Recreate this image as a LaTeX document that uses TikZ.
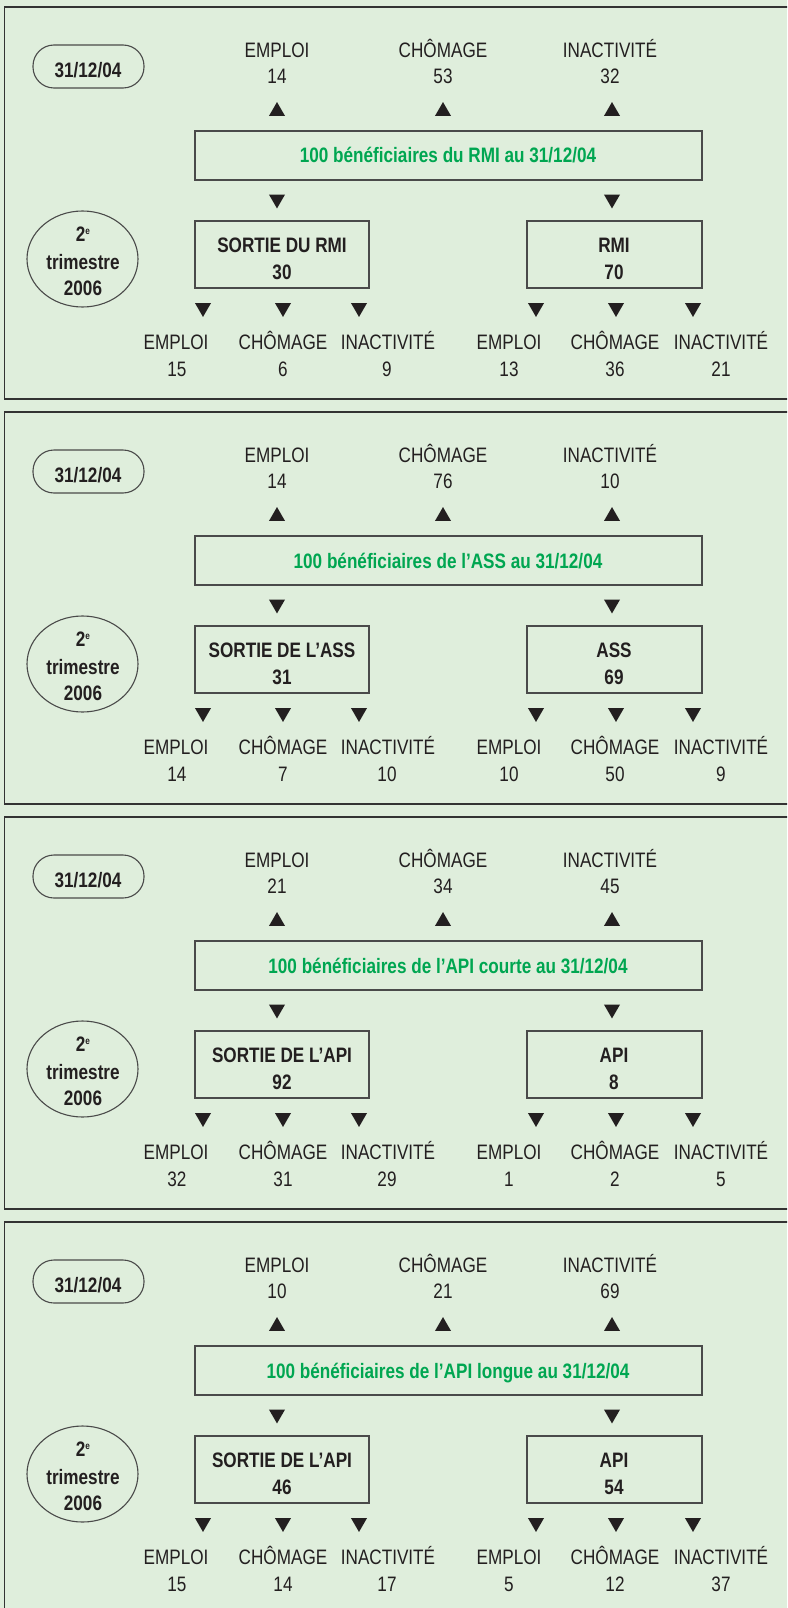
\documentclass[tikz,border=0pt]{standalone}
\usepackage{fontspec}
\setmainfont{Liberation Sans}[FakeStretch=0.82]
\usetikzlibrary{shapes.geometric}
\definecolor{fond}{HTML}{DFEEDC}
\definecolor{vert}{HTML}{00A651}
\definecolor{encre}{HTML}{231F20}
\definecolor{trait}{HTML}{4A4A4A}
\definecolor{cadre}{HTML}{333333}
\tikzstyle{ligne}=[anchor=base,inner sep=0pt,text=encre,font=\fontsize{20.9}{26}\selectfont]
\tikzstyle{gras}=[ligne,font=\fontsize{20.9}{26}\selectfont\bfseries]
\tikzstyle{boite}=[draw=trait,line width=1.1pt,shape=rectangle,inner sep=0pt]
\tikzstyle{haut}=[fill=encre,regular polygon,regular polygon sides=3,minimum size=18.5pt,inner sep=0pt]
\tikzstyle{bas}=[haut,shape border rotate=180]

\begin{document}
\begin{tikzpicture}[x=1pt,y=-1pt]
	\clip (0,0) rectangle (787,1608);
	\fill[fond] (0,0) rectangle (787,1608);
	\foreach \i/\ea/\ec/\ei/\qui/\sortie/\ns/\reste/\nr/\ga/\gb/\gc/\da/\db/\dc in {
		1/14/53/32/du RMI/SORTIE DU RMI/30/RMI/70/15/6/9/13/36/21,
		2/14/76/10/de l’ASS/SORTIE DE L’ASS/31/ASS/69/14/7/10/10/50/9,
		3/21/34/45/de l’API courte/SORTIE DE L’API/92/API/8/32/31/29/1/2/5,
		4/10/21/69/de l’API longue/SORTIE DE L’API/46/API/54/15/14/17/5/12/37}
	{
		\pgfmathsetmacro\t{7+405*(\i-1)}
		\draw[cadre,line width=1.3pt] (4.5,\t) rectangle (792,\t+392);
		% dates
		\node[boite,rounded corners=21pt,minimum width=111pt,minimum height=43pt] (date\i) at (88.5,\t+59.5) {};
		\node[gras] (datetxt\i) at (88,\t+70.3) {31/12/04};
		\node[boite,ellipse,minimum width=111pt,minimum height=96pt] (periode\i) at (82.5,\t+252) {};
		\node[gras] (periodea\i) at (83,\t+234) {2\raisebox{7pt}{\fontsize{10}{10}\selectfont e}};
		\node[gras] (periodeb\i) at (83,\t+262.3) {trimestre};
		\node[gras] (periodec\i) at (83,\t+288) {2006};
		% situation au 31/12/04
		\node[ligne] (emploi\i) at (277,\t+50.3) {EMPLOI};
		\node[ligne] (emploin\i) at (277,\t+76.3) {\ea};
		\node[ligne] (chomage\i) at (443,\t+50.3) {CHÔMAGE};
		\node[ligne] (chomagen\i) at (443,\t+76.3) {\ec};
		\node[ligne] (inact\i) at (610,\t+50.3) {INACTIVITÉ};
		\node[ligne] (inactn\i) at (610,\t+76.3) {\ei};
		\node[haut] (fa\i) at (277,\t+104.3) {};
		\node[haut] (fb\i) at (443,\t+104.3) {};
		\node[haut] (fc\i) at (612,\t+104.3) {};
		\node[boite,minimum width=507pt,minimum height=49pt] (benef\i) at (448.5,\t+148.5) {};
		\node[gras,text=vert] (beneftxt\i) at (448,\t+156) {100 bénéficiaires \qui{} au 31/12/04};
		\node[bas] (fd\i) at (277,\t+192.2) {};
		\node[bas] (fe\i) at (612,\t+192.2) {};
		% 2e trimestre 2006
		\node[boite,minimum width=174pt,minimum height=67pt] (sortie\i) at (282,\t+247.5) {};
		\node[gras] (sortietxt\i) at (282,\t+245.7) {\sortie};
		\node[gras] (sortien\i) at (282,\t+272.3) {\ns};
		\node[boite,minimum width=175pt,minimum height=67pt] (reste\i) at (614.5,\t+247.5) {};
		\node[gras] (restetxt\i) at (614,\t+245.7) {\reste};
		\node[gras] (resten\i) at (614,\t+272.3) {\nr};
		\node[bas] (ga\i) at (203,\t+300.7) {};
		\node[bas] (gb\i) at (283,\t+300.7) {};
		\node[bas] (gc\i) at (359,\t+300.7) {};
		\node[bas] (da\i) at (536,\t+300.7) {};
		\node[bas] (db\i) at (616,\t+300.7) {};
		\node[bas] (dc\i) at (693,\t+300.7) {};
		\node[ligne] (sempl\i) at (176,\t+342.3) {EMPLOI};
		\node[ligne] (sempln\i) at (177,\t+369) {\ga};
		\node[ligne] (schom\i) at (283,\t+342.3) {CHÔMAGE};
		\node[ligne] (schomn\i) at (283,\t+369) {\gb};
		\node[ligne] (sinact\i) at (388,\t+342.3) {INACTIVITÉ};
		\node[ligne] (sinactn\i) at (387,\t+369) {\gc};
		\node[ligne] (rempl\i) at (509,\t+342.3) {EMPLOI};
		\node[ligne] (rempln\i) at (509,\t+369) {\da};
		\node[ligne] (rchom\i) at (615,\t+342.3) {CHÔMAGE};
		\node[ligne] (rchomn\i) at (615,\t+369) {\db};
		\node[ligne] (rinact\i) at (721,\t+342.3) {INACTIVITÉ};
		\node[ligne] (rinactn\i) at (721,\t+369) {\dc};
	}
\end{tikzpicture}
\end{document}
